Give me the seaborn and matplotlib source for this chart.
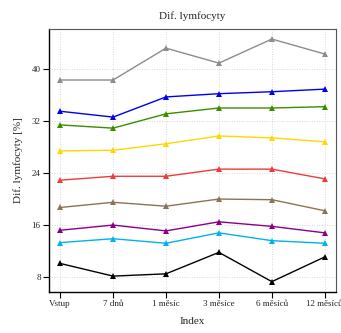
import matplotlib
matplotlib.use("Agg")
import matplotlib.pyplot as plt
import pandas as pd
import seaborn as sns

# Data
timepoints = ["Vstup", "7 dnů", "1 měsíc", "3 měsíce", "6 měsíců", "12 měsíců"]
gray = [38.3, 38.3, 43.2, 40.9, 44.6, 42.3]
blue = [33.5, 32.6, 35.7, 36.2, 36.5, 36.9]
green = [31.4, 30.9, 33.1, 34.0, 34.0, 34.2]
yellow = [27.4, 27.5, 28.5, 29.7, 29.4, 28.8]
red = [22.9, 23.5, 23.5, 24.6, 24.6, 23.1]
brown = [18.7, 19.5, 18.9, 20.0, 19.9, 18.2]
purple = [15.2, 16.0, 15.1, 16.5, 15.8, 14.8]
cyan = [13.3, 13.9, 13.2, 14.8, 13.6, 13.2]
black = [10.1, 8.15, 8.5, 11.8, 7.3, 11.1]

series = {
    "gray": gray, "blue": blue, "green": green, "yellow": yellow, "red": red,
    "brown": brown, "purple": purple, "cyan": cyan, "black": black,
}
colors = {
    "gray": "#8c8c8c", "blue": "#0000ee", "green": "#3c8c00", "yellow": "#ffd700",
    "red": "#ee3b3b", "brown": "#8b7355", "purple": "#8b008b", "cyan": "#00b2ee",
    "black": "#000000",
}

rows = []
for name, vals in series.items():
    for i, v in enumerate(vals):
        rows.append({"idx": i, "value": v, "series": name})
df = pd.DataFrame(rows)

sns.set_style("white")
plt.rcParams["font.family"] = ["Liberation Serif", "DejaVu Serif"]

fig = plt.figure(figsize=(3.41, 3.33), dpi=100)
ax = fig.add_axes([0.1437, 0.123, 0.8413, 0.79])

sns.lineplot(data=df, x="idx", y="value", hue="series", palette=colors,
             marker="^", markersize=4, markeredgewidth=0, linewidth=1.0,
             legend=False, ax=ax)

ax.set_xlim(-0.21, 5.21)
ax.set_ylim(5.7, 46.15)
ax.set_xticks(range(len(timepoints)))
ax.set_xticklabels(timepoints, fontsize=6.5)
ax.set_yticks([8, 16, 24, 32, 40])
ax.tick_params(axis="y", labelsize=6.5)
ax.tick_params(direction="out", length=4, width=0.8, color="black",
               bottom=True, left=True, pad=2)
ax.grid(True, linestyle=(0, (1, 2)), color="#cccccc", linewidth=0.6)

for s in ["left", "bottom"]:
    ax.spines[s].set_color("black")
    ax.spines[s].set_linewidth(1.0)
for s in ["top", "right"]:
    ax.spines[s].set_color("#555555")
    ax.spines[s].set_linewidth(0.8)

ax.set_title("Dif. lymfocyty", fontsize=8, pad=7)
ax.set_xlabel("Index", fontsize=8, labelpad=6)
ax.set_ylabel("Dif. lymfocyty [%]", fontsize=8, labelpad=6)

fig.savefig("out.png", dpi=100)
